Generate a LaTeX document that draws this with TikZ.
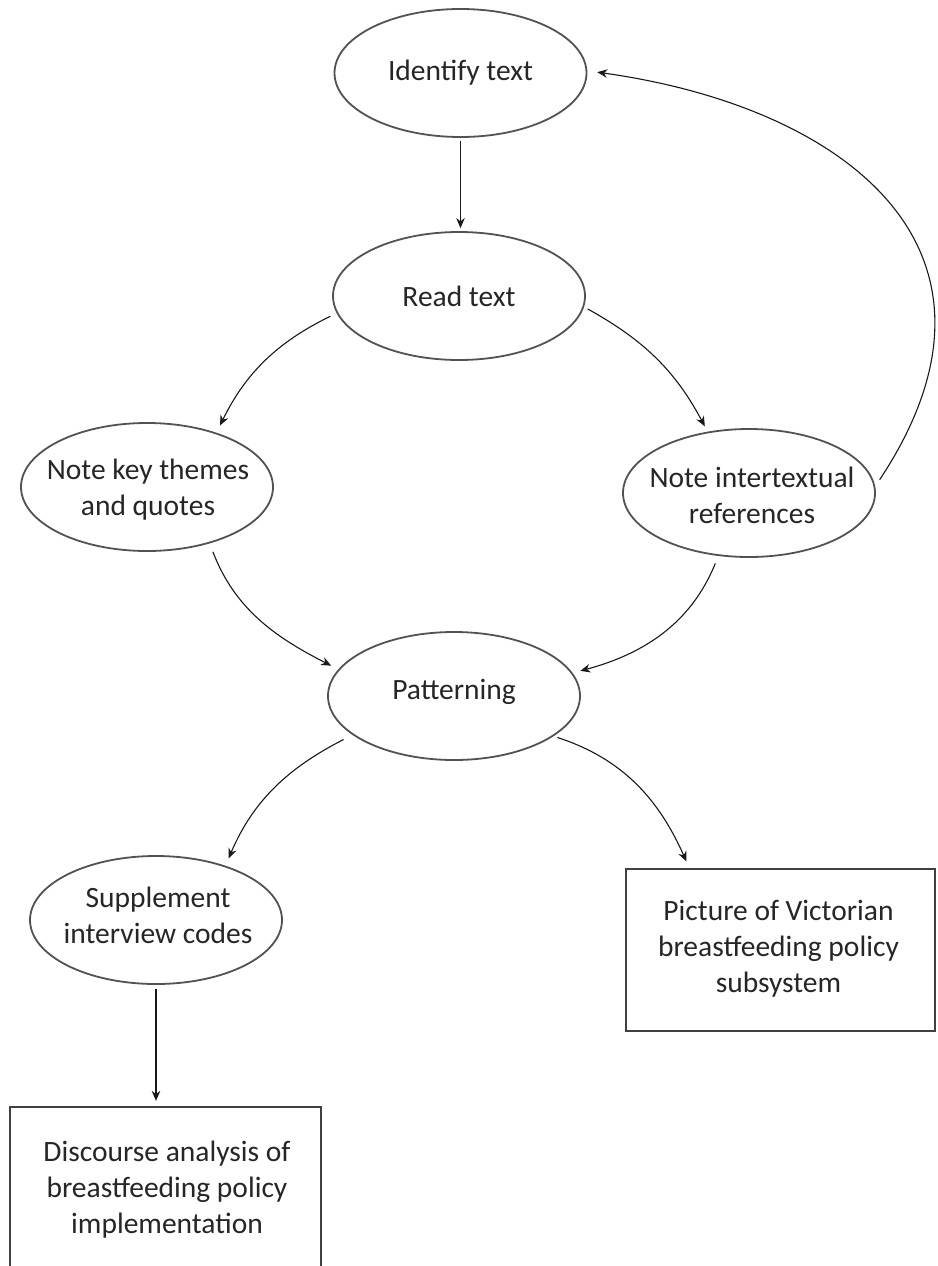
\documentclass[tikz,border=0pt]{standalone}
\usepackage{fontspec}
\setmainfont{Carlito}
\usetikzlibrary{shapes.geometric,arrows.meta}
\begin{document}
\begin{tikzpicture}[x=1pt,y=1pt,
  oval/.style={ellipse,draw=black!68,line width=1.8pt,minimum width=252pt,minimum height=128pt,inner sep=0pt},
  lbl/.style={font=\fontsize{29.5}{36}\selectfont,text=black!85,align=center,inner sep=0pt},
  box/.style={rectangle,draw=black!75,line width=2.3pt,inner sep=0pt},
  arr/.style={-{Stealth[length=10pt,width=8.5pt]},line width=1.1pt,draw=black!90}]
\useasboundingbox (0,0) rectangle (937,-1266);
\clip (0,0) rectangle (937,-1266);
\fill[white] (0,0) rectangle (937,-1266);

% nodes
\node[oval] (id) at (460.5,-73) {};
\node[lbl] (idt) at (id) {Identify text};
\node[oval] (rs) at (459,-296) {};
\node[lbl] (rst) at (rs) {Read text};
\node[oval] (nk) at (147,-487) {};
\node[lbl] (nkt) at (148,-490) {Note key themes\\and quotes};
\node[oval] (ni) at (749,-493) {};
\node[lbl] (nit) at (752,-495.5) {Note intertextual\\references};
\node[oval] (pt) at (454,-696) {};
\node[lbl] (ptt) at (454,-692) {Patterning};
\node[oval] (sp) at (156,-920) {};
\node[lbl] (spt) at (158,-915) {Supplement\\interview codes};
\node[box,minimum width=309pt,minimum height=162pt] (pic) at (780.5,-950) {};
\node[lbl] (pict) at (778.5,-948.5) {Picture of Victorian\\breastfeeding policy\\subsystem};
\node[box,minimum width=311pt,minimum height=166pt] (disc) at (165.5,-1190) {};
\node[lbl] (disct) at (167,-1189.5) {Discourse analysis of\\breastfeeding policy\\implementation};

% connectors
\draw[arr,shorten <=3pt,shorten >=3pt] (id.south) -- (id.south |- rs.north);
\draw[arr,shorten <=7pt,shorten >=8pt] (rs.188) to[out=206,in=64] (nk.38);
\draw[arr,shorten <=4pt,shorten >=6pt] (rs.355) to[out=331,in=118] (ni.124);
\draw[arr,shorten <=9pt,shorten >=8pt] (nk.318) to[out=291,in=153] (pt.167);
\draw[arr,shorten <=8pt,shorten >=8pt] (ni.244) to[out=248,in=15] (pt.11);
\draw[arr,shorten <=10pt,shorten >=8pt] (pt.201) to[out=207,in=67] (sp.38);
\draw[arr,shorten <=4pt,shorten >=7pt] (pt.338) to[out=342,in=114] (pic.138);
\draw[arr,shorten <=4pt,shorten >=5pt] (sp.south) -- (sp.south |- disc.north);
\draw[arr,shorten <=8pt,shorten >=10pt] (ni.3) .. controls +(157,237) and +(258,-36) .. (id.1);
\end{tikzpicture}
\end{document}
